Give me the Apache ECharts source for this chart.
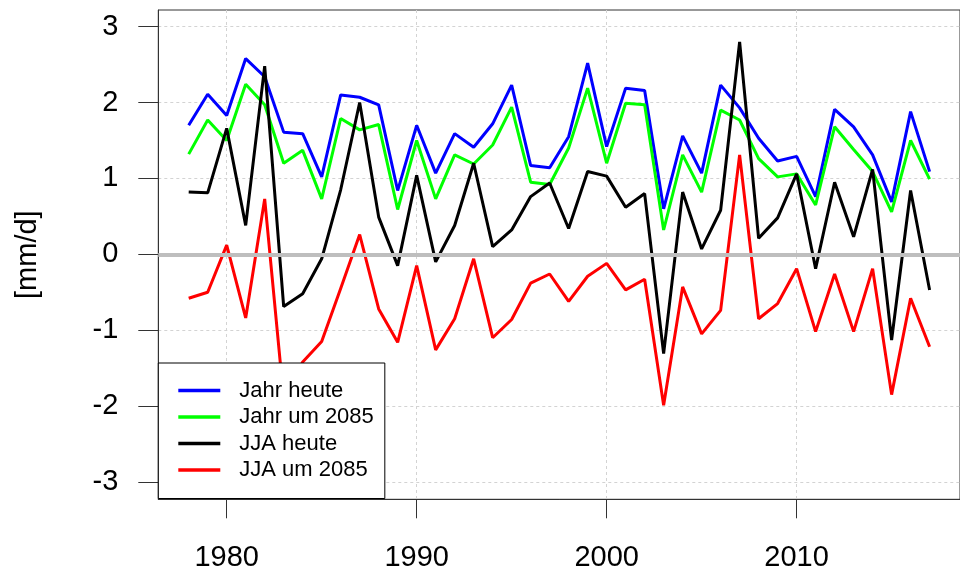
<!DOCTYPE html>
<html>
<head>
<meta charset="utf-8">
<script src="https://cdn.jsdelivr.net/npm/echarts@6/dist/echarts.min.js"></script>
<style>
html,body{margin:0;padding:0;background:#fff;}
#chart{width:960px;height:574px;}
</style>
</head>
<body>
<div id="chart"></div>
<script>
var years = [1978,1979,1980,1981,1982,1983,1984,1985,1986,1987,1988,1989,1990,1991,1992,1993,1994,1995,1996,1997,1998,1999,2000,2001,2002,2003,2004,2005,2006,2007,2008,2009,2010,2011,2012,2013,2014,2015,2016,2017];
var jahrHeute = [1.70,2.11,1.83,2.58,2.34,1.61,1.59,1.02,2.10,2.07,1.97,0.84,1.70,1.07,1.59,1.41,1.72,2.23,1.17,1.14,1.55,2.52,1.42,2.19,2.16,0.60,1.56,1.07,2.23,1.93,1.53,1.23,1.29,0.76,1.91,1.68,1.31,0.69,1.88,1.09];
var jahr2085 = [1.32,1.77,1.50,2.24,1.97,1.20,1.37,0.73,1.79,1.64,1.71,0.59,1.50,0.73,1.31,1.19,1.44,1.94,0.95,0.92,1.40,2.19,1.20,1.99,1.97,0.32,1.31,0.82,1.90,1.77,1.26,1.02,1.06,0.65,1.68,1.38,1.09,0.56,1.50,0.99];
var jjaHeute = [0.82,0.81,1.66,0.38,2.48,-0.69,-0.52,-0.06,0.85,2.00,0.49,-0.15,1.04,-0.10,0.38,1.20,0.10,0.32,0.76,0.94,0.34,1.09,1.03,0.62,0.80,-1.31,0.82,0.07,0.58,2.80,0.21,0.48,1.06,-0.19,0.95,0.23,1.12,-1.13,0.84,-0.47];
var jja2085 = [-0.58,-0.50,0.12,-0.84,0.73,-1.90,-1.42,-1.15,-0.45,0.26,-0.72,-1.16,-0.15,-1.26,-0.85,-0.06,-1.10,-0.86,-0.38,-0.26,-0.62,-0.29,-0.12,-0.47,-0.33,-1.99,-0.43,-1.05,-0.74,1.31,-0.85,-0.65,-0.19,-1.02,-0.26,-1.02,-0.19,-1.85,-0.58,-1.22];
var xTicks = [1980,1990,2000,2010];
var yTicks = [-3,-2,-1,0,1,2,3];
var seriesNames = ['Jahr heute','Jahr um 2085','JJA heute','JJA um 2085'];
var seriesColors = ['#0000ff','#00ff00','#000000','#ff0000'];
var seriesValues = [jahrHeute, jahr2085, jjaHeute, jja2085];

var font = 'Liberation Sans, Arial, sans-serif';
var chart = echarts.init(document.getElementById('chart'), null, {renderer:'canvas'});

var series = seriesValues.map(function(vals, i){
  var s = {
    name: seriesNames[i],
    type: 'line',
    data: years.map(function(y, k){ return [y, vals[k]]; }),
    symbol: 'none',
    lineStyle: {color: seriesColors[i], width: 3},
    itemStyle: {color: seriesColors[i]},
    z: 2 + i * 0.1,
    silent: true
  };
  if (i === seriesValues.length - 1) {
    s.markLine = {
      silent: true,
      symbol: ['none','none'],
      label: {show:false},
      lineStyle: {color:'#bebebe', width:4, type:'solid'},
      data: [{yAxis: 0}]
    };
  }
  return s;
});

var option = {
  animation: false,
  backgroundColor: '#ffffff',
  grid: {
    left: 158.3, top: 10, right: -7.3, bottom: 74.7,
    show: true, borderColor: '#333', borderWidth: 1, backgroundColor: 'transparent'
  },
  xAxis: {
    type: 'value', min: 1976.4, max: 2018.6,
    axisLine: {show: true, onZero: false, lineStyle: {color:'#333', width:1}},
    axisTick: {show: true, length: 19, customValues: xTicks, lineStyle: {color:'#333', width:1}},
    axisLabel: {customValues: xTicks, fontSize: 29, color:'#000', fontFamily: font, margin: 44,
      formatter: function(v){ return String(v); }},
    splitLine: {show: true, lineStyle: {color:'#d3d3d3', width:1, type:[3,3]}}
  },
  yAxis: {
    type: 'value', min: -3.23, max: 3.22,
    name: '[mm/d]', nameLocation: 'middle', nameGap: 116, nameRotate: 90,
    nameTextStyle: {fontSize: 29, color:'#000', fontFamily: font},
    axisLine: {show: true, onZero: false, lineStyle: {color:'#333', width:1}},
    axisTick: {show: true, length: 20, customValues: yTicks, lineStyle: {color:'#333', width:1}},
    axisLabel: {customValues: yTicks, fontSize: 29, color:'#000', fontFamily: font, margin: 40,
      formatter: function(v){ return String(v); }},
    splitLine: {show: true, lineStyle: {color:'#d3d3d3', width:1, type:[3,3]}}
  },
  legend: {
    orient: 'vertical',
    left: 158.3, top: 363,
    padding: [14.5, 11, 15.5, 20],
    itemGap: 0.5,
    itemWidth: 42, itemHeight: 3.5,
    icon: 'rect',
    backgroundColor: '#ffffff',
    borderColor: '#000',
    borderWidth: 1,
    borderRadius: 0,
    selectedMode: false,
    textStyle: {fontSize: 22, color:'#000', fontFamily: font, lineHeight: 26, padding:[0,0,0,14]},
    data: seriesNames.map(function(n, i){ return {name: n, itemStyle:{color: seriesColors[i]}}; }),
    z: 10
  },
  series: series
};
chart.setOption(option);
</script>
</body>
</html>
